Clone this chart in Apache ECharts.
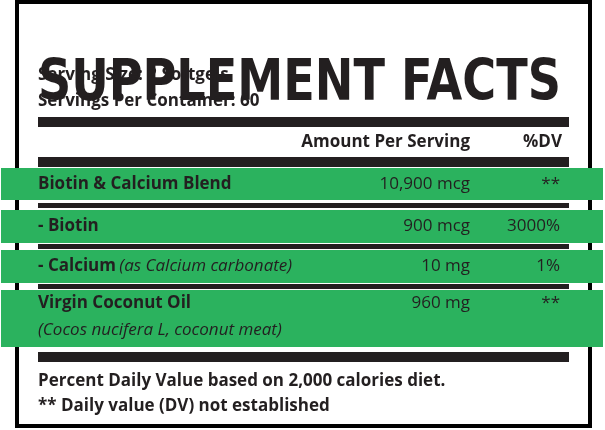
<!DOCTYPE html>
<html><head><meta charset="utf-8">
<script src="https://cdn.jsdelivr.net/npm/echarts@6/dist/echarts.min.js"></script>
<style>html,body{margin:0;padding:0;background:#fff}#c{width:605px;height:430px}</style>
</head><body><div id="c"></div>
<script>
const title = "SUPPLEMENT FACTS";
const servingLines = ["Serving Size: 2 Softgels", "Servings Per Container: 60"];
const headers = ["Amount Per Serving", "%DV"];
const names = ["Biotin & Calcium Blend", "- Biotin", "- Calcium", "Virgin Coconut Oil"];
const notes = ["", "", "(as Calcium carbonate)", "(Cocos nucifera L, coconut meat)"];
const amounts = ["10,900 mcg", "900 mcg", "10 mg", "960 mg"];
const dvs = ["**", "3000%", "1%", "**"];
const footer = ["Percent Daily Value based on 2,000 calories diet.", "** Daily value (DV) not established"];

const F = '"Open Sans",sans-serif';
const TF = '"DejaVu Sans Condensed",sans-serif';
const ink = '#231f20', green = '#2bb25e';
const rowBands = [[168,200],[210,243],[250,283],[290,347]];
const g = [];
const rect = (x,y,w,h,fill)=>g.push({type:'rect',shape:{x,y,width:w,height:h},style:{fill}});
const text = (x,y,t,o)=>g.push({type:'text',x,y,style:Object.assign({text:t,fill:ink,font:'bold 17px '+F,textVerticalAlign:'middle'},o||{})});
// border
rect(15,0,4,428,'#000'); rect(588,0,4,428,'#000'); rect(15,0,577,4,'#000'); rect(15,424,577,4,'#000');
// title
g.push({type:'text',x:38,y:57,scaleX:0.9,style:{text:title,fill:ink,font:'bold 57px '+TF,textBaseline:'alphabetic'}});
text(38,75,servingLines[0]); text(38,101,servingLines[1]);
rect(38,117,531,10,ink);
text(470,142,headers[0],{textAlign:'right'}); text(562,142,headers[1],{textAlign:'right'});
rect(38,157,531,10,ink);
rect(38,203,531,5,ink); rect(38,244,531,5,ink); rect(38,284,531,5,ink);
rowBands.forEach((b,i)=>{
  rect(1,b[0],602,b[1]-b[0],green);
  const cy = i===3 ? 303 : (b[0]+b[1])/2;
  if(i===2){
    g.push({type:'text',x:38,y:cy,style:{text:'{b|'+names[i]+'} {n|'+notes[i]+'}',textVerticalAlign:'middle',rich:{b:{font:'bold 17px '+F,fill:ink},n:{font:'italic 17px '+F,fill:ink}}}});
  } else text(38,cy,names[i]);
  if(i===3) text(38,330,notes[i],{font:'italic 17px '+F});
  text(470,cy,amounts[i],{textAlign:'right',font:'17px '+F});
  text(560,cy,dvs[i],{textAlign:'right',font:'17px '+F});
});
rect(38,352,531,10,ink);
text(38,381,footer[0]); text(38,406,footer[1]);
const chart = echarts.init(document.getElementById('c'));
chart.setOption({animation:false,graphic:{elements:g}});
</script></body></html>
